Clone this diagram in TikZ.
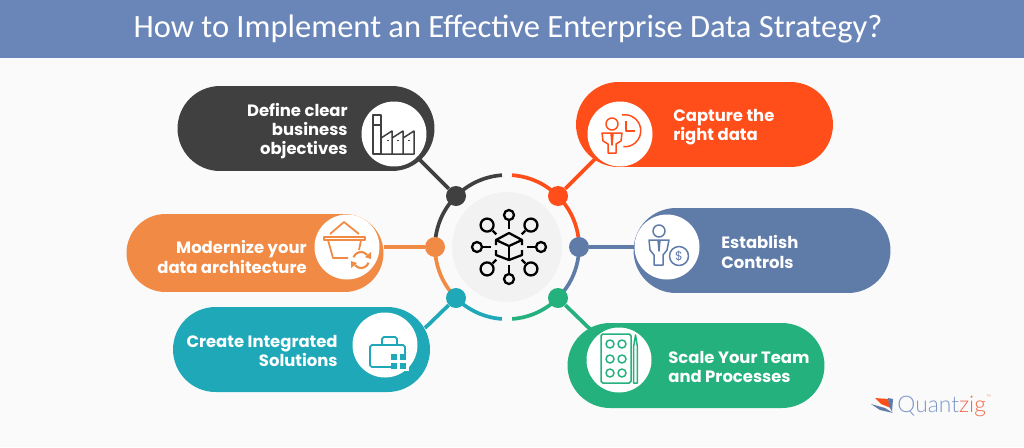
\documentclass[tikz,border=0pt]{standalone}
\usepackage{fontspec}
\setmainfont{Poppins}
\newfontfamily\titlefont{Carlito}
\newfontfamily\logofont{Lato Light}
\usetikzlibrary{shapes.misc,positioning}
\definecolor{qpaper}{HTML}{FAFAFA}
\definecolor{qband}{HTML}{6A86B8}
\definecolor{qdark}{HTML}{404040}
\definecolor{qorange}{HTML}{F08A45}
\definecolor{qteal}{HTML}{1FA8B8}
\definecolor{qred}{HTML}{FF4E1A}
\definecolor{qblue}{HTML}{5F7CA9}
\definecolor{qgreen}{HTML}{25B17E}
\definecolor{qhub}{HTML}{F2F2F2}
\definecolor{qlogoblue}{HTML}{7D97C8}
\definecolor{qlogored}{HTML}{F26A4B}
\tikzset{
  pill/.style={rounded rectangle,minimum width=5.14cm,minimum height=1.7cm,inner sep=0pt},
  badge/.style={circle,fill=white,minimum size=1.3cm,inner sep=0pt},
  hubdot/.style={circle,minimum size=0.4cm,inner sep=0pt},
  link/.style={line width=2.1pt},
  ringarc/.style={line width=2.1pt},
  icon/.style={line width=0.85pt,line join=round},
  pilltext/.style={text=white,font=\fontsize{9.35}{11}\selectfont\bfseries,inner sep=0pt}
}
\begin{document}
\begin{tikzpicture}[x=0.02cm,y=-0.02cm]
    \useasboundingbox (0,0) rectangle (1024,447);
    \fill[qpaper] (0,0) rectangle (1024,447);

    % Title band
    \node (band) [fill=qband,minimum width=20.48cm,minimum height=1.16cm,inner sep=0pt] at (512,29) {};
    \node (title) [text=white,font=\titlefont\fontsize{18.5}{22}\selectfont] at (508,29) {How to Implement an Effective Enterprise Data Strategy?};

    % Pills
    \node (pillDefine) [pill,fill=qdark] at (306,128.5) {};
    \node (pillModern) [pill,fill=qorange,minimum height=1.56cm] at (255,253) {};
    \node (pillCreate) [pill,fill=qteal] at (301.5,349.5) {};
    \node (pillCapture) [pill,fill=qred] at (704.5,124.5) {};
    \node (pillControls) [pill,fill=qblue] at (762,250.5) {};
    \node (pillScale) [pill,fill=qgreen] at (696,365.5) {};

    % White badges for the icons
    \node (badgeDefine) [badge] at (394,134) {};
    \node (badgeModern) [badge] at (347,247) {};
    \node (badgeCreate) [badge] at (385,345) {};
    \node (badgeCapture) [badge] at (620,134) {};
    \node (badgeControls) [badge] at (667,247) {};
    \node (badgeScale) [badge] at (619,360) {};

    % Labels
    \node (txtDefine) [pilltext,align=right,left] at (348,131) {Define clear\\business\\objectives};
    \node (txtModern) [pilltext,align=right,left] at (307,257) {Modernize your\\data architecture};
    \node (txtCreate) [pilltext,align=right,left] at (338,351) {Create Integrated\\Solutions\hspace{0.08cm}};
    \node (txtCapture) [pilltext,align=left,right] at (673,127) {Capture the\\right data};
    \node (txtControls) [pilltext,align=left,right] at (721,252) {Establish\\Controls};
    \node (txtScale) [pilltext,align=left,right] at (668,367) {Scale Your Team\\and Processes};

    % Hub
    \node (hub) [circle,fill=qhub,minimum size=2.2cm,inner sep=0pt] at (507,247) {};
    \coordinate (ringNW) at (456,196);
    \coordinate (ringW) at (435,247);
    \coordinate (ringSW) at (456,298);
    \coordinate (ringNE) at (558,196);
    \coordinate (ringE) at (579,247);
    \coordinate (ringSE) at (558,298);
    \coordinate (endCreate) at (425,328);
    \coordinate (endScale) at (592,331);

    % Ring
    \draw[ringarc,qdark] (ringW) arc[start angle=180,end angle=266,radius=72];
    \draw[ringarc,qred] (ringE) arc[start angle=0,end angle=-86,radius=72];
    \draw[ringarc,qblue] (ringE) arc[start angle=0,end angle=45,radius=72];
    \draw[ringarc,qgreen] (ringSE) arc[start angle=45,end angle=86,radius=72];
    \draw[ringarc,qteal] (ringSW) arc[start angle=135,end angle=94,radius=72];
    \draw[ringarc,qorange] (ringW) arc[start angle=180,end angle=135,radius=72];

    % Dots on the ring
    \node (dotNW) [hubdot,fill=qdark] at (ringNW) {};
    \node (dotW) [hubdot,fill=qorange] at (ringW) {};
    \node (dotSW) [hubdot,fill=qteal] at (ringSW) {};
    \node (dotNE) [hubdot,fill=qred] at (ringNE) {};
    \node (dotE) [hubdot,fill=qblue] at (ringE) {};
    \node (dotSE) [hubdot,fill=qgreen] at (ringSE) {};

    % Connectors
    \draw[link,qdark] (dotNW) -- (badgeDefine);
    \draw[link,qorange] (dotW) -- (dotW -| pillModern.east);
    \draw[link,qteal] (dotSW) -- (endCreate);
    \draw[link,qred] (dotNE) -- (badgeCapture);
    \draw[link,qblue] (dotE) -- (badgeControls);
    \draw[link,qgreen] (dotSE) -- (endScale);

    % Hub icon
    \begin{scope}[shift={(509,247)},icon,line width=1.3pt]
        \foreach \a in {0,90,180,270} {
            \draw (\a:18) -- (\a:27);
            \draw (\a:32) circle[radius=5];
        }
        \foreach \a in {45,135,225,315} {
            \draw (\a:18) -- (\a:23);
            \draw (\a:31) circle[radius=6.5];
        }
        \draw (0,-14) -- (13,-7) -- (0,-1) -- (-13,-7) -- cycle;
        \draw (0,-1) -- (0,13);
        \draw (-13,-7) -- (-13,-2) (-13,3) -- (-13,8) -- (0,13) -- (13,8) -- (13,3) (13,-2) -- (13,-7);
    \end{scope}

    % Factory icon
    \begin{scope}[shift={(394,134)},icon,qdark]
        \draw (-21,-19) rectangle (-13,20);
        \draw (-21,-9) -- (-13,-9);
        \draw (-13,4) -- (-2,-3) -- (-2,20) (-2,4) -- (9,-3) -- (9,20) (9,4) -- (20,-3) -- (20,20) -- (-13,20);
        \foreach \x in {-7,3,14} \fill (\x,5.5) rectangle ++(2,1.5);
    \end{scope}

    % Basket icon
    \begin{scope}[shift={(347,247)},icon,qorange,line width=1pt]
        \draw (-17,-13) -- (-3,-25) -- (12,-13);
        \draw (-23,-10) rectangle (18,-7);
        \draw (-19,-7) -- (-14,11) -- (1,11) (14,-7) -- (12,3);
        \draw[line width=1.2pt] ([shift={(200:8)}]14,13) arc[start angle=200,end angle=320,radius=8];
        \draw[line width=1.2pt] ([shift={(20:8)}]14,13) arc[start angle=20,end angle=140,radius=8];
        \fill (24,5) -- (24,12) -- (18,10) -- cycle;
        \fill (4,21) -- (4,14) -- (10,16) -- cycle;
    \end{scope}

    % Briefcase icon
    \begin{scope}[shift={(385,345)},icon,qteal,line width=1pt]
        \draw[rounded corners=1pt] (-15,0) rectangle (20,22);
        \draw[rounded corners=1pt] (-3,0) -- (-3,-8) -- (12,-8) -- (12,0);
        \fill[white] (6,9) rectangle (24,26);
        \foreach \x/\y in {9/12,18/12,9/21,18/21} \fill (\x-2.7,\y-2.7) rectangle ++(5.4,5.4);
    \end{scope}

    % Person with clock icon
    \begin{scope}[shift={(620,134)},icon,qred]
        \draw (-8,-10) circle[radius=6];
        \draw (-18,-1) -- (2,-1) -- (1,7) -- (-4,10) -- (-4,19) -- (-12,19) -- (-12,10) -- (-17,7) -- cycle;
        \draw (-9,-1) -- (-8,11) -- (-7,-1);
        \draw (2,-19) arc[start angle=-100,end angle=95,radius=16];
        \draw (6,-13) -- (6,-3) -- (15,-3);
    \end{scope}

    % Person with coin icon
    \begin{scope}[shift={(667,247)},icon,qblue]
        \draw (-8,-16) circle[radius=6];
        \draw (-18,-7) -- (2,-7) -- (0,3) -- (-4,8) -- (-4,18) -- (-13,18) -- (-13,8) -- (-17,3) -- cycle;
        \draw (-9,-7) -- (-8,4) -- (-7,-7);
        \draw (12,9) circle[radius=9.5];
        \node (coin) [text=qblue,font=\fontsize{7}{7}\selectfont,inner sep=0pt] at (12,9) {\$};
    \end{scope}

    % Palette icon
    \begin{scope}[shift={(619,360)},icon,qgreen]
        \draw[rounded corners=1pt] (-18,-26) rectangle (12,23);
        \foreach \x in {-9,3} \foreach \y in {-16,-1,13} \draw (\x,\y) circle[radius=4];
        \draw (16.5,-25) -- (14.7,-14) -- (14.7,23) -- (18.3,23) -- (18.3,-14) -- cycle;
    \end{scope}

    % Logo
    \fill[qred] (875,398) -- (888,399) -- (891,408) -- (881,404) -- cycle;
    \fill[qblue] (888,398) -- (893,399) -- (892,412) -- (889,406) -- cycle;
    \fill[qblue] (871,404) -- (885,408) -- (893,413) -- (880,410) -- cycle;
    \node (logo) [font=\logofont\fontsize{13}{14}\selectfont,anchor=base west,inner sep=0pt] at (897,412.5) {\textcolor{qlogoblue}{Quant}\textcolor{qlogored}{zig}};
    \node (logoTm) [right=0pt of logo.north east,yshift=-0.03cm,text=qlogored,font=\logofont\fontsize{3.5}{4}\selectfont,inner sep=0pt] {™};
\end{tikzpicture}
\end{document}
